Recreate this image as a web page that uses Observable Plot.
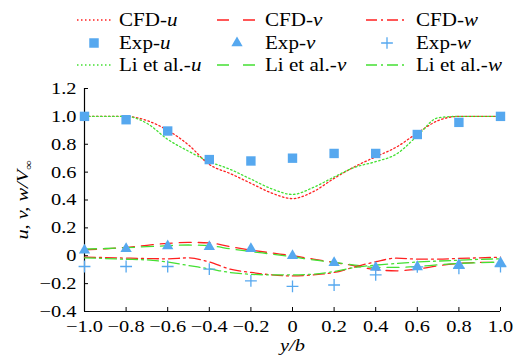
<!DOCTYPE html>
<html><head><meta charset="utf-8">
<script src="https://cdn.jsdelivr.net/npm/d3@7"></script>
<script src="https://cdn.jsdelivr.net/npm/@observablehq/plot@0.6"></script>
<style>
body{margin:0;background:#fff;}
#fig{position:relative;width:520px;height:361px;font-family:"Liberation Serif","Times New Roman",serif;color:#000;}
#legend svg, #chart svg{display:block;}
</style></head>
<body><div id="fig"><div id="legend"></div><div id="chart"></div></div>
<script>
// ---- data ----
const xTicks = [-1.0,-0.8,-0.6,-0.4,-0.2,0,0.2,0.4,0.6,0.8,1.0];
const yTicks = [-0.4,-0.2,0,0.2,0.4,0.6,0.8,1.0,1.2];

// experiment points (y/b)
const expX = [-1.0,-0.8,-0.6,-0.4,-0.2,0,0.2,0.4,0.6,0.8,1.0];
const expU = [1.0,0.976,0.895,0.69,0.68,0.70,0.734,0.734,0.87,0.957,1.0];
const expV = [0.04,0.05,0.07,0.065,0.05,0.0,-0.05,-0.085,-0.08,-0.065,-0.05];
const expW = [-0.077,-0.077,-0.077,-0.096,-0.18,-0.22,-0.21,-0.137,-0.08,-0.09,-0.077];

// computed curves sampled along y/b
const curveX = [-1.0,-0.9,-0.8,-0.7,-0.6,-0.5,-0.4,-0.3,-0.2,-0.1,0,0.1,0.2,0.3,0.4,0.5,0.6,0.7,0.8,0.9,1.0];
const cfdU = [1.0,1.0,1.0,0.97,0.90,0.795,0.655,0.59,0.52,0.45,0.41,0.46,0.555,0.64,0.71,0.78,0.88,0.97,1.0,1.0,1.0];
const liU  = [1.0,1.0,1.0,0.95,0.835,0.75,0.675,0.62,0.55,0.48,0.44,0.49,0.565,0.635,0.675,0.73,0.86,0.99,1.0,1.0,1.0];
const cfdV = [0.043,0.05,0.06,0.075,0.089,0.096,0.092,0.065,0.041,0.02,0.0,-0.024,-0.048,-0.072,-0.10,-0.108,-0.096,-0.072,-0.055,-0.048,-0.048];
const liV  = [0.048,0.052,0.058,0.065,0.072,0.077,0.072,0.05,0.03,0.012,-0.007,-0.03,-0.048,-0.067,-0.084,-0.084,-0.077,-0.065,-0.055,-0.05,-0.045];
const cfdW = [-0.01,-0.013,-0.017,-0.02,-0.022,-0.015,-0.045,-0.096,-0.12,-0.137,-0.145,-0.137,-0.12,-0.08,-0.043,-0.017,-0.024,-0.024,-0.019,-0.015,-0.01];
const liW  = [-0.015,-0.02,-0.025,-0.03,-0.045,-0.07,-0.094,-0.12,-0.133,-0.137,-0.137,-0.133,-0.113,-0.084,-0.067,-0.055,-0.045,-0.038,-0.032,-0.026,-0.022];

// legend entries
const legendRows = [
  [{t:"CFD-",v:"u",k:"line",c:"red",d:"1.5,2.5"},{t:"CFD-",v:"v",k:"line",c:"red",d:"12,14"},{t:"CFD-",v:"w",k:"line",c:"red",d:"11,4,2,4"}],
  [{t:"Exp-",v:"u",k:"square"},{t:"Exp-",v:"v",k:"triangle"},{t:"Exp-",v:"w",k:"plus"}],
  [{t:"Li et al.-",v:"u",k:"line",c:"green",d:"1.5,2.5"},{t:"Li et al.-",v:"v",k:"line",c:"green",d:"12,14"},{t:"Li et al.-",v:"w",k:"line",c:"green",d:"11,4,2,4"}]
];

const RED = "#ff2020", GREEN = "#44e033", BLUE = "#56a8ef";
const col = {red: RED, green: GREEN};
const S = 1.2;   // horizontal stretch of the typeface (axes)
const SL = 1.17; // horizontal stretch of the typeface (legend)

// ---- legend (its own svg above the chart) ----
const colLeft = [77, 217, 366], swW = [34, 40, 42], rowMid = [20, 43, 65];
const leg = d3.select("#legend").append("svg").attr("width", 520).attr("height", 78)
  .style("font-family", "Liberation Serif, Times New Roman, serif").style("font-size", "18px");
legendRows.forEach((row, r) => row.forEach((e, c) => {
  const g = leg.append("g").attr("transform", `translate(${colLeft[c]},${rowMid[r]})`);
  const w = swW[c];
  if (e.k === "line") {
    g.append("line").attr("x1",0).attr("x2",w).attr("y1",0).attr("y2",0)
      .attr("stroke", col[e.c]).attr("stroke-width",1.3).attr("stroke-dasharray", e.d);
  } else {
    const sym = e.k === "square" ? d3.symbolSquare : e.k === "triangle" ? d3.symbolTriangle : d3.symbolPlus;
    const size = e.k === "square" ? 90 : e.k === "triangle" ? 55 : 47;
    const p = g.append("path").attr("d", d3.symbol(sym, size)()).attr("transform", `translate(${w/2},0)`);
    if (e.k === "plus") p.attr("fill","none").attr("stroke",BLUE).attr("stroke-width",1.3);
    else p.attr("fill",BLUE);
  }
  const t = g.append("text").attr("transform", `translate(${w + 8},0) scale(${SL},1)`).attr("dy", "0.33em");
  t.append("tspan").text(e.t);
  t.append("tspan").attr("font-style","italic").text(e.v);
}));

// ---- chart ----
const fmt = d => d === 0 ? "0" : d3.format(".1f")(d).replace("-", "\u2212");
const lw = 1.3;
const line = (Y, color, dash) => Plot.line(curveX, {x: d => d, y: (d, i) => Y[i], stroke: color, strokeWidth: lw, strokeDasharray: dash, curve: "monotone-x"});

const chart = Plot.plot({
  width: 520, height: 283,
  marginLeft: 84, marginRight: 20, marginTop: 10, marginBottom: 50,
  style: {fontFamily: "Liberation Serif, Times New Roman, serif", fontSize: "17px", color: "#000", background: "#fff", overflow: "visible"},
  x: {domain: [-1, 1]},
  y: {domain: [-0.4, 1.2]},
  marks: [
    Plot.axisX({ticks: xTicks, tickFormat: fmt, tickSize: -4, tickPadding: 12, label: null, fontSize: 17}),
    Plot.axisY({ticks: yTicks, tickFormat: fmt, tickSize: -4, tickPadding: 12, label: null, fontSize: 17}),
    Plot.ruleY([-0.4], {strokeWidth: 1.2}),
    Plot.ruleX([-1], {strokeWidth: 1.2}),
    line(cfdU, RED, "1.5,2.5"),
    line(liU, GREEN, "1.5,2.5"),
    line(cfdV, RED, "12,7"),
    line(liV, GREEN, "12,7"),
    line(cfdW, RED, "11,4,2,4"),
    line(liW, GREEN, "11,4,2,4"),
    Plot.dot(expX, {x: d => d, y: (d, i) => expU[i], symbol: "square", r: 5.3, fill: BLUE, stroke: "none"}),
    Plot.dot(expX, {x: d => d, y: (d, i) => expV[i], symbol: "triangle", r: 4.2, fill: BLUE, stroke: "none"}),
    Plot.dot(expX, {x: d => d, y: (d, i) => expW[i], symbol: "plus", r: 3.9, stroke: BLUE, strokeWidth: 1.3, fill: "none"}),
    Plot.text(["y/b"], {frameAnchor: "bottom", dy: 39, fontStyle: "italic", fontSize: 17}),
    Plot.text(["YLABEL"], {frameAnchor: "left", textAnchor: "middle", dx: -62, rotate: -90, fontStyle: "italic", fontSize: 17})
  ]
});
document.getElementById("chart").appendChild(chart);

// y-axis label with subscript
d3.select(chart).selectAll("text").filter(function(){ return this.textContent === "YLABEL"; }).each(function(){
  const t = d3.select(this); t.text("").attr("text-anchor", "middle");
  t.append("tspan").text("u, v, w/V");
  t.append("tspan").attr("dy", 4).attr("font-size", 11).attr("font-style","normal").text("\u221e");
});
// stretch glyphs horizontally around their anchor
chart.querySelectorAll("text").forEach(t => {
  const x = t.getAttribute("x"), y = t.getAttribute("y");
  let tx = 0, ty = 0;
  if (x !== null && x !== "" && !isNaN(+x)) { tx = +x; t.removeAttribute("x"); }
  if (y !== null && y !== "" && !isNaN(+y)) { ty = +y; t.removeAttribute("y"); }
  const tr = t.getAttribute("transform") || "";
  t.setAttribute("transform", `${tr} translate(${tx},${ty}) scale(${S},1)`);
});
</script>
</body></html>
